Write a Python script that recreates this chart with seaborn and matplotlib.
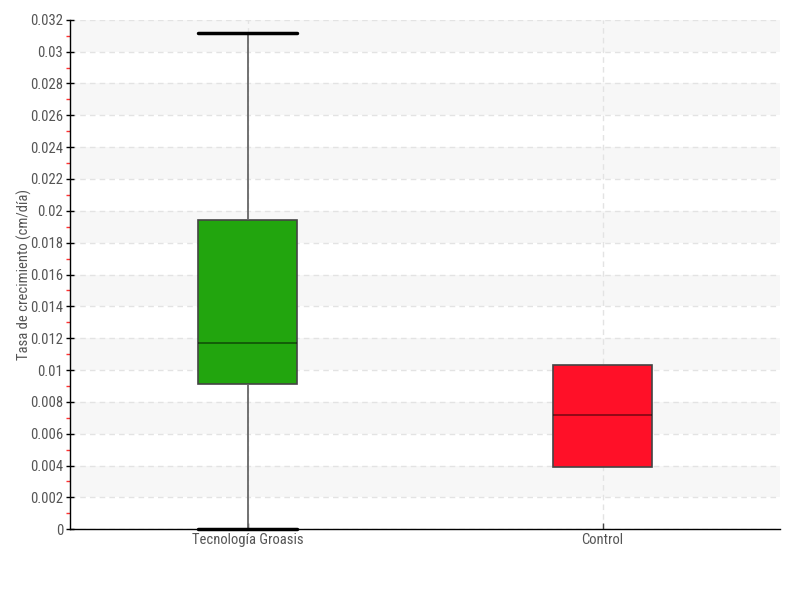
import numpy as np
import pandas as pd
import matplotlib
matplotlib.use("Agg")
import matplotlib.pyplot as plt
from matplotlib import font_manager
from matplotlib.ticker import MultipleLocator, FuncFormatter
import seaborn as sns

categories = ["Tecnología Groasis", "Control"]
groasis_values = [0.0, 0.0091, 0.0117, 0.0194, 0.0312]
control_values = [0.0039, 0.0039, 0.0072, 0.0103, 0.0103]
box_colors = ["#22a50e", "#ff1028"]

sns.set_theme(style="white")

# pick a narrow font if one is around
installed = {f.name for f in font_manager.fontManager.ttflist}
narrow = [n for n in ["Roboto Condensed", "Liberation Sans Narrow", "DejaVu Sans Condensed",
                      "Open Sans Condensed"] if n in installed]
if narrow:
    plt.rcParams["font.family"] = [narrow[0], "DejaVu Sans"]
    fsize = 10.5
else:
    plt.rcParams["font.family"] = ["DejaVu Sans"]
    plt.rcParams["font.stretch"] = "condensed"
    fsize = 9

df = pd.DataFrame({
    "grupo": [categories[0]] * len(groasis_values) + [categories[1]] * len(control_values),
    "tasa": groasis_values + control_values,
})

fig = plt.figure(figsize=(8, 6), dpi=100)
ax = fig.add_axes([0.0875, 0.118, 0.8875, 0.849])

# alternating background bands
for lo in np.arange(0.002, 0.032, 0.004):
    ax.axhspan(lo, lo + 0.002, color="#f7f7f7", zorder=0, lw=0)

box_w = 0.28
sns.boxplot(data=df, x="grupo", y="tasa", hue="grupo", order=categories,
            palette=dict(zip(categories, box_colors)), legend=False,
            width=box_w, whis=1.5, saturation=1, ax=ax,
            boxprops=dict(edgecolor="#444444", linewidth=1.2),
            medianprops=dict(color="black", linewidth=1.2, alpha=0.5),
            whiskerprops=dict(color="#666666", linewidth=1.3),
            capprops=dict(color="black", linewidth=2.5))

# caps span the whole box; control shows none
for i, cont in enumerate(ax.containers):
    for cap in cont.caps:
        if i == 1:
            cap.set_visible(False)
        else:
            xs = cap.get_xdata()
            c = np.mean(xs)
            cap.set_xdata([c - box_w / 2, c + box_w / 2])
            cap.set_clip_on(False)
            cap.set_zorder(6)
    for med in cont.medians:
        med.set_zorder(5)

ax.set_xlim(-0.5, 1.5)
ax.set_ylim(0, 0.032)
ax.yaxis.set_major_locator(MultipleLocator(0.002))
ax.yaxis.set_minor_locator(MultipleLocator(0.001))
ax.yaxis.set_major_formatter(FuncFormatter(lambda v, p: f"{v:g}" if abs(v) > 1e-12 else "0"))

ax.grid(True, axis="both", which="major", color="#e3e3e3", linestyle=(0, (4, 3)), linewidth=1)
ax.set_axisbelow(True)

for side in ["top", "right"]:
    ax.spines[side].set_visible(False)
for side in ["left", "bottom"]:
    ax.spines[side].set_color("black")
    ax.spines[side].set_linewidth(1)

ax.tick_params(axis="y", which="major", direction="inout", length=6, width=1,
               color="black", labelsize=fsize, labelcolor="#555555", left=True, pad=2)
ax.tick_params(axis="y", which="minor", direction="out", length=3, width=1,
               color="#ff3030", left=True)
ax.tick_params(axis="x", which="major", direction="in", length=4, width=1,
               color="#444444", labelsize=fsize, labelcolor="#555555", bottom=True, pad=3)

ax.set_xlabel("")
ax.set_ylabel("Tasa de crecimiento (cm/día)", fontsize=fsize, color="#555555")
ax.yaxis.set_label_coords(-0.054, 0.5)

fig.savefig("out.png", dpi=100)
